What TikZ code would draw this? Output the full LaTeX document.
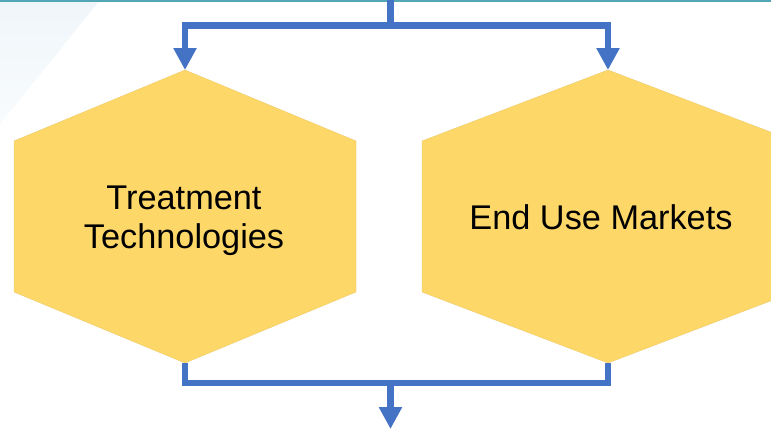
\documentclass[tikz,border=0pt]{standalone}
\usepackage{fontspec}
\setmainfont{Liberation Sans}
\usetikzlibrary{arrows.meta}
\definecolor{hexfill}{HTML}{FDD768}
\definecolor{flowblue}{HTML}{4472C4}
\definecolor{topline}{HTML}{52A6B5}
\definecolor{wash}{HTML}{EFF6FA}
\tikzset{
  conn/.style={draw=flowblue, line width=6.5pt, line join=miter},
  tip/.style={-{Triangle[width=22pt,length=22pt]}},
  hexbox/.style={fill=hexfill, draw=hexfill!92!black, line width=0.3pt},
  label/.style={font=\fontsize{34.3}{39.5}\selectfont, align=center, inner sep=0pt}
}
\begin{document}
\begin{tikzpicture}[x=1pt,y=-1pt]
  \useasboundingbox (0,0) rectangle (771,429);
  \fill[white] (0,0) rectangle (771,429);
  % pale wash in the upper left corner, fading towards its lower edge
  \shade[top color=wash, bottom color=wash!40!white] (0,0) -- (100,0) -- (0,124) -- cycle;
  % thin rule along the top edge
  \draw[topline, line width=1.8pt] (0,0.9) -- (771,0.9);

  % left hexagon
  \coordinate (topL) at (185,70);
  \coordinate (botL) at (185,363);
  \path[hexbox] (topL) -- (356,141) -- (356,292) -- (botL) -- (14,292) -- (14,141) -- cycle;
  \node[label] (treat) at (184,221) {Treatment\\Technologies};

  % right hexagon (runs past the right edge)
  \coordinate (topR) at (608,70);
  \coordinate (botR) at (608,363);
  \path[hexbox] (topR) -- (794,141) -- (794,292) -- (botR) -- (422,292) -- (422,141) -- cycle;
  \node[label] (market) at (601,217) {End Use Markets};

  % incoming flow, split to both hexagons
  \coordinate (src) at (390.5,-4);
  \coordinate (split) at (390.5,25.5);
  \draw[conn] (src) -- (split);
  \draw[conn,tip] (split) -| (topL);
  \draw[conn,tip] (split) -| (topR);

  % merged outgoing flow
  \coordinate (merge) at (390.5,383);
  \coordinate (out) at (390.5,429);
  \draw[conn] (botL) |- (merge);
  \draw[conn] (botR) |- (merge);
  \draw[conn,tip] (merge) -- (out);
\end{tikzpicture}
\end{document}
